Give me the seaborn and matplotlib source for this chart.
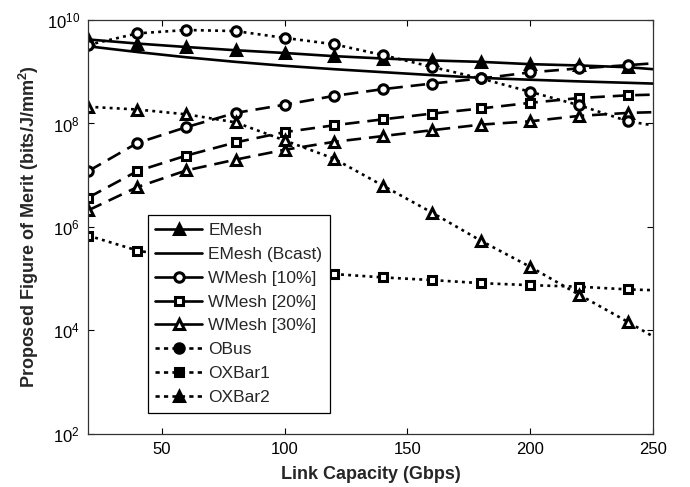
import numpy as np
import pandas as pd
import matplotlib
matplotlib.use("Agg")
import matplotlib.pyplot as plt
from matplotlib.lines import Line2D
from matplotlib.ticker import FixedLocator, LogFormatterMathtext, NullLocator
import seaborn as sns

# Link capacity (Gbps); markers are drawn every 20 Gbps, curves run to 250
capacity = [20, 40, 60, 80, 100, 120, 140, 160, 180, 200, 220, 240, 250]

emesh = [4.2e9, 3.5e9, 3.0e9, 2.6e9, 2.3e9, 2.0e9, 1.8e9, 1.65e9, 1.55e9, 1.4e9, 1.32e9, 1.22e9, 1.12e9]
emesh_bcast = [3.1e9, 2.4e9, 1.9e9, 1.55e9, 1.3e9, 1.12e9, 9.8e8, 8.6e8, 7.6e8, 7.0e8, 6.5e8, 6.1e8, 5.9e8]
wmesh10 = [1.2e7, 4.2e7, 8.5e7, 1.6e8, 2.3e8, 3.4e8, 4.6e8, 5.9e8, 7.4e8, 9.7e8, 1.16e9, 1.34e9, 1.45e9]
wmesh20 = [3.7e6, 1.2e7, 2.4e7, 4.3e7, 6.8e7, 9.2e7, 1.2e8, 1.55e8, 1.95e8, 2.5e8, 3.1e8, 3.5e8, 3.6e8]
wmesh30 = [2.1e6, 5.9e6, 1.24e7, 2.0e7, 3.1e7, 4.4e7, 5.7e7, 7.4e7, 9.5e7, 1.1e8, 1.4e8, 1.6e8, 1.65e8]
obus = [3.3e9, 5.5e9, 6.4e9, 6.1e9, 4.5e9, 3.4e9, 2.1e9, 1.24e9, 7.4e8, 4.1e8, 2.25e8, 1.1e8, 9.2e7]
oxbar1 = [6.8e5, 3.5e5, 2.4e5, 1.8e5, 1.45e5, 1.23e5, 1.06e5, 9.4e4, 8.2e4, 7.5e4, 7.0e4, 6.2e4, 6.0e4]
oxbar2 = [2.1e8, 1.86e8, 1.5e8, 1.05e8, 4.7e7, 2.1e7, 6.3e6, 1.9e6, 5.4e5, 1.7e5, 4.9e4, 1.45e4, 7.7e3]

names = ["EMesh", "EMesh (Bcast)", "WMesh [10%]", "WMesh [20%]", "WMesh [30%]",
         "OBus", "OXBar1", "OXBar2"]
values = [emesh, emesh_bcast, wmesh10, wmesh20, wmesh30, obus, oxbar1, oxbar2]

x_ticks = [50, 100, 150, 200, 250]
y_ticks = [1e2, 1e4, 1e6, 1e8, 1e10]

sns.set_theme(style="ticks")
plt.rcParams["font.family"] = ["Liberation Sans", "DejaVu Sans"]
plt.rcParams["mathtext.fontset"] = "custom"
plt.rcParams["mathtext.rm"] = "Liberation Sans"
plt.rcParams["mathtext.it"] = "Liberation Sans:italic"
plt.rcParams["mathtext.bf"] = "Liberation Sans:bold"
plt.rcParams["mathtext.default"] = "regular"

LW = 1.9
solid = "-"
dashed = (0, (5.5, 3.0))
dotted = (0, (1.1, 1.6))

styles = {
    "EMesh": dict(ls=solid, marker="^", mfc="black"),
    "EMesh (Bcast)": dict(ls=solid, marker=None, mfc="black"),
    "WMesh [10%]": dict(ls=dashed, marker="o", mfc="white"),
    "WMesh [20%]": dict(ls=dashed, marker="s", mfc="white"),
    "WMesh [30%]": dict(ls=dashed, marker="^", mfc="white"),
    "OBus": dict(ls=dotted, marker="o", mfc="white"),
    "OXBar1": dict(ls=dotted, marker="s", mfc="white"),
    "OXBar2": dict(ls=dotted, marker="^", mfc="white"),
}


def marker_size(m):
    return 5.5 if m == "s" else 6.8


fig = plt.figure(figsize=(6.9, 4.87), dpi=100)
ax = fig.add_axes([0.128, 0.109, 0.818, 0.850])

marker_idx = list(range(len(capacity) - 1))
for name, vals in zip(names, values):
    st = styles[name]
    df = pd.DataFrame({"capacity": capacity, "merit": vals})
    kw = dict(color="black", linewidth=LW, linestyle=st["ls"])
    if st["marker"]:
        kw.update(marker=st["marker"], markersize=marker_size(st["marker"]),
                  markerfacecolor=st["mfc"], markeredgecolor="black",
                  markeredgewidth=2.2, markevery=marker_idx)
    sns.lineplot(data=df, x="capacity", y="merit", ax=ax, **kw)

ax.set_yscale("log")
ax.set_xlim(20, 250)
ax.set_ylim(1e2, 1e10)
ax.xaxis.set_major_locator(FixedLocator(x_ticks))
ax.yaxis.set_major_locator(FixedLocator(y_ticks))
ax.yaxis.set_major_formatter(LogFormatterMathtext())
ax.yaxis.set_minor_locator(NullLocator())
ax.xaxis.set_minor_locator(NullLocator())
ax.tick_params(axis="both", which="major", direction="in", length=4, width=0.8,
               top=True, right=True, labelsize=12, colors="black", pad=6)

for sp in ax.spines.values():
    sp.set_visible(True)
    sp.set_color("#333333")
    sp.set_linewidth(0.9)

ax.set_xlabel("Link Capacity (Gbps)", fontsize=13, fontweight="bold", labelpad=6)
ax.set_ylabel(r"Proposed Figure of Merit (bits/J/mm$^{\mathbf{2}}$)", fontsize=13,
              fontweight="bold", labelpad=4)

# Legend keys: mesh entries with solid strokes, optical entries with short dashes
handles = []
legend_ls = {solid: "-", dashed: "-", dotted: (0, (1.6, 1.6))}
legend_mfc = {"EMesh": "black", "OBus": "black", "OXBar1": "black", "OXBar2": "black"}
for name in names:
    st = styles[name]
    h = Line2D([], [], color="black", linewidth=LW, linestyle=legend_ls[st["ls"]],
               marker=st["marker"], markersize=marker_size(st["marker"]),
               markerfacecolor=legend_mfc.get(name, "white"), markeredgecolor="black",
               markeredgewidth=2.2)
    handles.append(h)

leg = ax.legend(handles, names, loc="lower left", bbox_to_anchor=(0.105, 0.051),
                fontsize=12.5, frameon=True, fancybox=False, framealpha=1,
                edgecolor="black", handlelength=2.7, handletextpad=0.35,
                labelspacing=0.5, borderpad=0.45, borderaxespad=0)
leg.get_frame().set_linewidth(0.9)

fig.savefig("out.png", dpi=100)
